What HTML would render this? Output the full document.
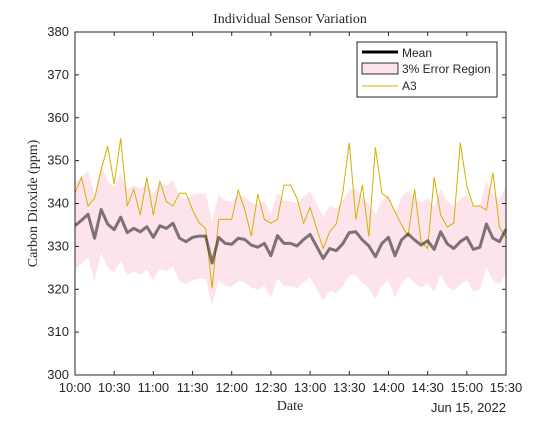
<!DOCTYPE html>
<html><head><meta charset="utf-8"><style>
body{margin:0;background:#fff}
svg text{font-family:"Liberation Sans",sans-serif;fill:#262626}
.serif{font-family:"Liberation Serif",serif}
</style></head><body>
<svg id="chart" width="560" height="420" viewBox="0 0 560 420" xmlns="http://www.w3.org/2000/svg">
<rect width="560" height="420" fill="#fff"/>
<rect x="75" y="32" width="431" height="343" fill="#fff"/>
<g id="band"></g>
<g id="lines"></g>
<g id="axes"></g>
<text class="serif" x="290" y="23" text-anchor="middle" font-size="14">Individual Sensor Variation</text>
<text class="serif" x="290" y="410" text-anchor="middle" font-size="14">Date</text>
<text x="506" y="412" text-anchor="end" font-size="13">Jun 15, 2022</text>
<text class="serif" transform="translate(37,203.5) rotate(-90)" text-anchor="middle" font-size="14">Carbon Dioxide (ppm)</text>
<g>
<rect x="357" y="42" width="140" height="55" fill="#fff" stroke="#262626" stroke-width="1"/>
<line x1="362" y1="52" x2="398" y2="52" stroke="#000" stroke-width="3"/>
<text x="402" y="57" font-size="12">Mean</text>
<rect x="362" y="63" width="36" height="11" fill="#fde3ec" stroke="#000" stroke-width="0.8"/>
<text x="402" y="73" font-size="12">3% Error Region</text>
<line x1="362" y1="86" x2="398" y2="86" stroke="#d4b000" stroke-width="1"/>
<text x="402" y="90" font-size="12">A3</text>
</g>
</svg>
<script>
const meanVals=[334.8,336.1,337.5,331.9,338.6,335.2,333.9,336.8,333.2,334.2,333.4,334.6,332.1,334.8,334.2,335.4,331.9,331.1,332.1,332.4,332.4,326.1,332.1,330.7,330.5,331.9,331.6,330.3,329.8,330.7,327.8,332.5,330.7,330.7,330.1,331.6,332.8,330.0,327.2,329.5,329.0,330.6,333.2,333.4,331.5,330.1,327.6,330.7,332.1,327.8,331.5,332.9,331.5,330.3,331.3,329.3,333.4,330.6,329.5,331.1,332.1,329.3,329.8,335.2,331.9,331.1,334.0];
const a3Vals=[342.5,346.1,339.4,341.2,347.8,353.4,344.6,355.2,339.4,343.3,337.3,346.1,337.3,345.1,340.4,339.4,342.4,342.4,338.5,335.5,334.2,320.2,336.3,336.3,336.3,343.1,338.5,332.4,342.2,336.3,335.4,336.3,344.3,344.3,341.2,335.4,339.1,334.2,329.5,333.4,335.2,342.4,354.2,336.3,344.3,332.3,353.1,342.4,341.2,338.1,335.0,332.4,343.3,331.1,329.5,346.1,337.3,334.5,335.4,354.2,344.1,339.4,339.4,338.5,347.2,334.5,332.0];
const errorPct=3;
const yTicks=[300,310,320,330,340,350,360,370,380];
const xTickLabels=["10:00","10:30","11:00","11:30","12:00","12:30","13:00","13:30","14:00","14:30","15:00","15:30"];
const X0=75,X1=506,Y0=375,Y1=32,YMIN=300,YMAX=380,TMIN=0,TMAX=330,STEP=5;
const xs=m=>X0+(m-TMIN)/(TMAX-TMIN)*(X1-X0);
const ys=v=>Y0-(v-YMIN)/(YMAX-YMIN)*(Y0-Y1);
const NS="http://www.w3.org/2000/svg";
const mk=(t,a)=>{const e=document.createElementNS(NS,t);for(const k in a)e.setAttribute(k,a[k]);return e;};
const band=document.getElementById('band'),lines=document.getElementById('lines'),axes=document.getElementById('axes');
let up=[],lo=[];
meanVals.forEach((v,i)=>{up.push(xs(i*STEP)+','+ys(v*(1+errorPct/100)));lo.unshift(xs(i*STEP)+','+ys(v*(1-errorPct/100)));});
const bp=mk('polygon',{points:up.concat(lo).join(' '),fill:'#fde3ec'});


band.appendChild(bp);
const a3=mk('polyline',{points:a3Vals.map((v,i)=>xs(i*STEP)+','+ys(v)).join(' '),fill:'none',stroke:'#d4b000','stroke-width':1});


lines.appendChild(a3);
const ml=mk('polyline',{points:meanVals.map((v,i)=>xs(i*STEP)+','+ys(v)).join(' '),fill:'none',stroke:'#000','stroke-opacity':0.5,'stroke-width':3,'stroke-linejoin':'round'});


lines.appendChild(ml);
axes.appendChild(mk('rect',{x:X0,y:Y1,width:X1-X0,height:Y0-Y1,fill:'none',stroke:'#262626','stroke-width':1}));
yTicks.forEach(v=>{const y=ys(v);
axes.appendChild(mk('line',{x1:X0,y1:y,x2:X0+4,y2:y,stroke:'#262626'}));
axes.appendChild(mk('line',{x1:X1,y1:y,x2:X1-4,y2:y,stroke:'#262626'}));
const t=mk('text',{x:X0-6,y:y+4,'text-anchor':'end','font-size':13});t.textContent=v;


axes.appendChild(t);});
xTickLabels.forEach((s,i)=>{const x=xs(i*30);
axes.appendChild(mk('line',{x1:x,y1:Y0,x2:x,y2:Y0-4,stroke:'#262626'}));
axes.appendChild(mk('line',{x1:x,y1:Y1,x2:x,y2:Y1+4,stroke:'#262626'}));
const t=mk('text',{x:x,y:Y0+17,'text-anchor':'middle','font-size':13});t.textContent=s;


axes.appendChild(t);});
</script>
</body></html>
